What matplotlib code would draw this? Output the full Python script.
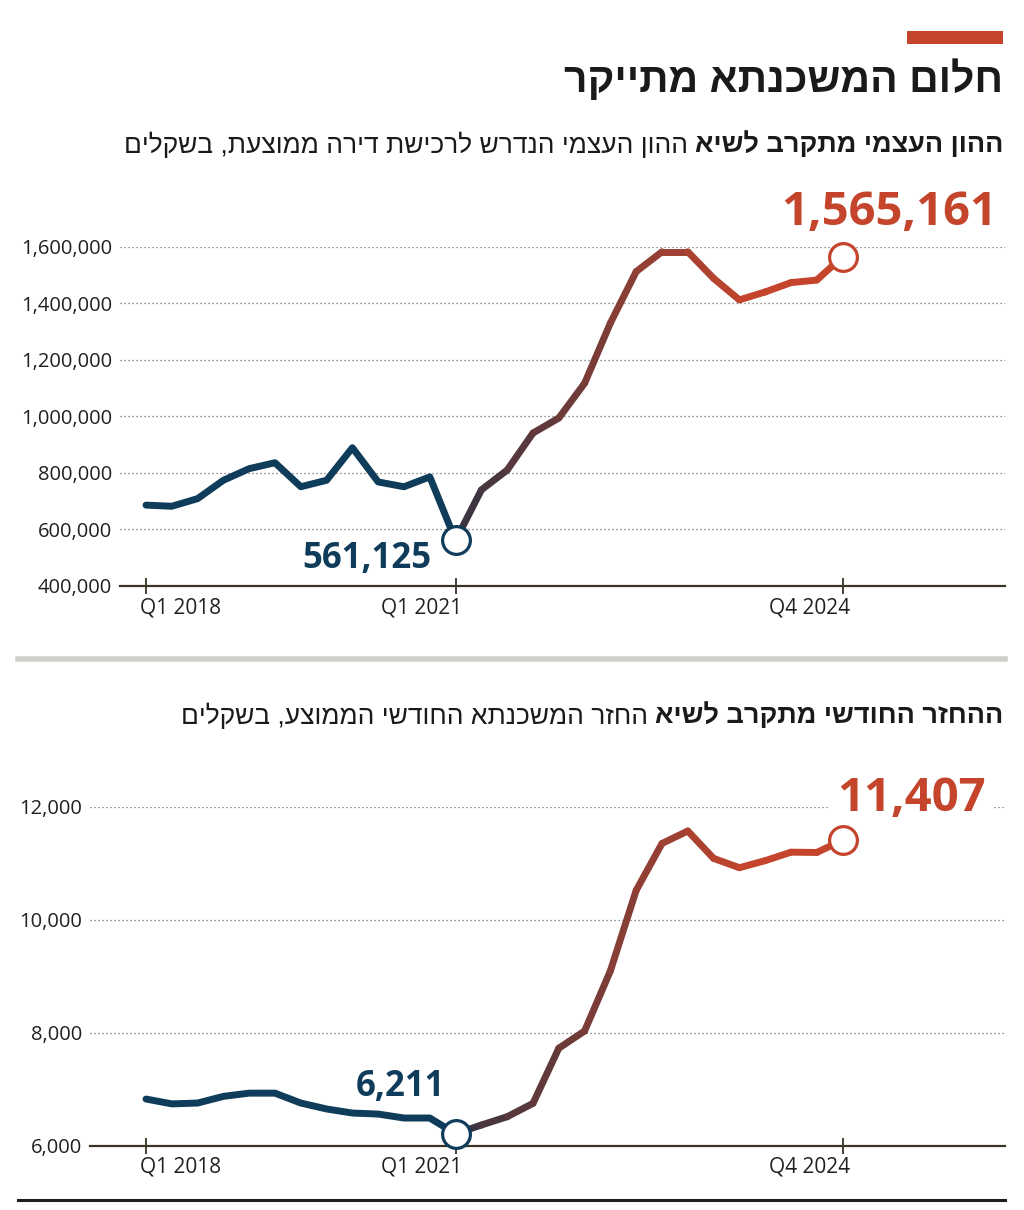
"""Mortgage dream chart: equity and monthly repayment, 2018-2024."""

import numpy as np
import matplotlib

matplotlib.use("Agg")
import matplotlib.pyplot as plt
import matplotlib.transforms as mtransforms
from matplotlib.collections import LineCollection
from matplotlib.colors import to_rgb
from matplotlib.patches import Rectangle

# Data
quarters = [f"Q{q} {y}" for y in range(2018, 2025) for q in range(1, 5)]
equity = [686000, 682000, 709000, 774000, 815000, 836000, 751000, 774000,
          889000, 768000, 751000, 786000, 561125, 740000, 810000, 941000,
          994000, 1117000, 1330000, 1512000, 1582000, 1582000, 1488000,
          1412000, 1440000, 1473000, 1482000, 1565161]
repayment = [6826, 6740, 6755, 6873, 6930, 6930, 6755, 6650, 6578, 6560,
             6490, 6490, 6211, 6366, 6513, 6749, 7725, 8030, 9095, 10520,
             11349, 11570, 11085, 10920, 11045, 11195, 11190, 11407]
tick_idx = [0, 12, 27]
tick_labels = ["Q1 2018", "Q1 2021", "Q4 2024"]
equity_ticks = [400000, 600000, 800000, 1000000, 1200000, 1400000, 1600000]
repay_ticks = [6000, 8000, 10000, 12000]

title = "חלום המשכנתא מתייקר"
sub1_bold = "ההון העצמי מתקרב לשיא"
sub1_reg = "ההון העצמי הנדרש לרכישת דירה ממוצעת, בשקלים"
sub2_bold = "ההחזר החודשי מתקרב לשיא"
sub2_reg = "החזר המשכנתא החודשי הממוצע, בשקלים"

# Styles
NAVY = "#0f3c5a"
DARK = "#3d3541"
RED = "#c4452c"
INK = "#231f20"
AXIS = "#3a3426"
HEB = ["Liberation Sans", "DejaVu Sans"]
NUM = ["Open Sans", "DejaVu Sans"]
W, H = 1024, 1210
STEP = 25.8  # px per quarter
X0 = 146     # px of first quarter

plt.rcParams["font.family"] = NUM


def heb(s):
    # matplotlib has no bidi: reverse to visual order
    return s[::-1]


def fx(px):
    return px / W


def fy(py):
    return 1 - py / H


def mix(a, b, t):
    a, b = np.array(to_rgb(a)), np.array(to_rgb(b))
    return tuple(a + (b - a) * t)


def panel(left, top_px, bottom_px, yticks):
    ax = fig.add_axes([fx(left), fy(bottom_px), fx(1005) - fx(left),
                       (bottom_px - top_px) / H])
    ax.set_xlim((left - X0) / STEP, (1005 - X0) / STEP)
    ax.set_ylim(yticks[0], yticks[-1])
    ax.set_yticks(yticks, [f"{v:,}" for v in yticks])
    ax.set_xticks(tick_idx, tick_labels)
    ax.grid(axis="y", ls=(0, (1, 2.2)), color="#6d6d6d", lw=0.9)
    ax.set_axisbelow(True)
    for s in ("left", "right", "top"):
        ax.spines[s].set_visible(False)
    ax.spines["bottom"].set_color(AXIS)
    ax.spines["bottom"].set_linewidth(1.6)
    ax.tick_params(axis="y", length=0, pad=5.5, labelsize=14.5, labelcolor=INK)
    ax.tick_params(axis="x", direction="inout", length=11, width=1.3,
                   color=AXIS, pad=2.5, labelsize=15, labelcolor=INK)
    # first label hangs right of its tick, the others end just past theirs
    for lab, ha, dx in zip(ax.get_xticklabels(), ["left", "right", "right"],
                           [-6, 7, 8]):
        lab.set_ha(ha)
        lab.set_transform(lab.get_transform() + mtransforms.ScaledTranslation(
            dx / 100, 0, fig.dpi_scale_trans))
    return ax


def draw_line(ax, values):
    x = np.arange(len(values))
    y = np.array(values, float)
    split = 12
    ax.plot(x[:split + 1], y[:split + 1], color=NAVY, lw=5,
            solid_capstyle="round", solid_joinstyle="round", zorder=3)
    pts = np.column_stack([x, y])
    segs = [pts[i:i + 2] for i in range(split, len(x) - 1)]
    n = len(segs)
    cols = [mix(DARK, RED, min(1, i / (n - 4))) for i in range(n)]
    ax.add_collection(LineCollection(segs, colors=cols, linewidths=5,
                                     capstyle="round", joinstyle="round",
                                     zorder=3))
    ax.plot(x[split], y[split], "o", ms=20, mfc="white", mec=NAVY, mew=2.3,
            zorder=5, clip_on=False)
    ax.plot(x[-1], y[-1], "o", ms=20, mfc="white", mec=RED, mew=2.3,
            zorder=5, clip_on=False)
    return x, y


fig = plt.figure(figsize=(W / 100, H / 100), dpi=100)

# Header
fig.add_artist(Rectangle((fx(907), fy(44)), (1003 - 907) / W, 13 / H,
                         transform=fig.transFigure, color=RED, lw=0))
fig.text(fx(1003), fy(92), heb(title), ha="right", va="baseline",
         fontsize=29.5, fontweight="bold", family=HEB, color="#1a1a1a")


def subtitle(py, bold, reg):
    t = fig.text(fx(1003), fy(py), heb(bold), ha="right", va="baseline",
                 fontsize=19.5, fontweight="bold", family=HEB, color="#1a1a1a")
    ann = plt.annotate(heb(reg), xy=(0, 0), xycoords=t, xytext=(-7, 0),
                       textcoords="offset pixels", ha="right", va="bottom",
                       fontsize=19, family=HEB, color="#1a1a1a",
                       annotation_clip=False)
    return t, ann


# Top panel
ax1 = panel(120, 246.7, 586, equity_ticks)
x, y = draw_line(ax1, equity)
ax1.annotate("561,125", xy=(x[12], y[12]), xytext=(-24, -28),
             textcoords="offset pixels", ha="right", va="baseline",
             fontsize=25, fontweight="bold", color=NAVY)
ax1.annotate("1,565,161", xy=(x[-1], y[-1]), xytext=(155, 32),
             textcoords="offset pixels", ha="right", va="baseline",
             fontsize=34, fontweight="bold", color=RED, annotation_clip=False)
subtitle(152, sub1_bold, sub1_reg)

# Separator
fig.add_artist(plt.Line2D([fx(18), fx(1005)], [fy(659)] * 2, lw=4,
                          color="#cfcfcb"))

# Bottom panel
ax2 = panel(90, 806.7, 1145.7, repay_ticks)
x, y = draw_line(ax2, repayment)
ax2.annotate("6,211", xy=(x[12], y[12]), xytext=(-10, 38),
             textcoords="offset pixels", ha="right", va="baseline",
             fontsize=25, fontweight="bold", color=NAVY)
ax2.annotate("11,407", xy=(x[-1], y[-1]), xytext=(143, 29),
             textcoords="offset pixels", ha="right", va="baseline",
             fontsize=34, fontweight="bold", color=RED, annotation_clip=False,
             bbox=dict(boxstyle="square,pad=0.15", fc="white", ec="none"))
subtitle(723, sub2_bold, sub2_reg)

fig.add_artist(plt.Line2D([fx(18), fx(1005)], [fy(1200)] * 2, lw=2.2,
                          color="#1e1e1e"))

fig.savefig("out.png", dpi=100)
